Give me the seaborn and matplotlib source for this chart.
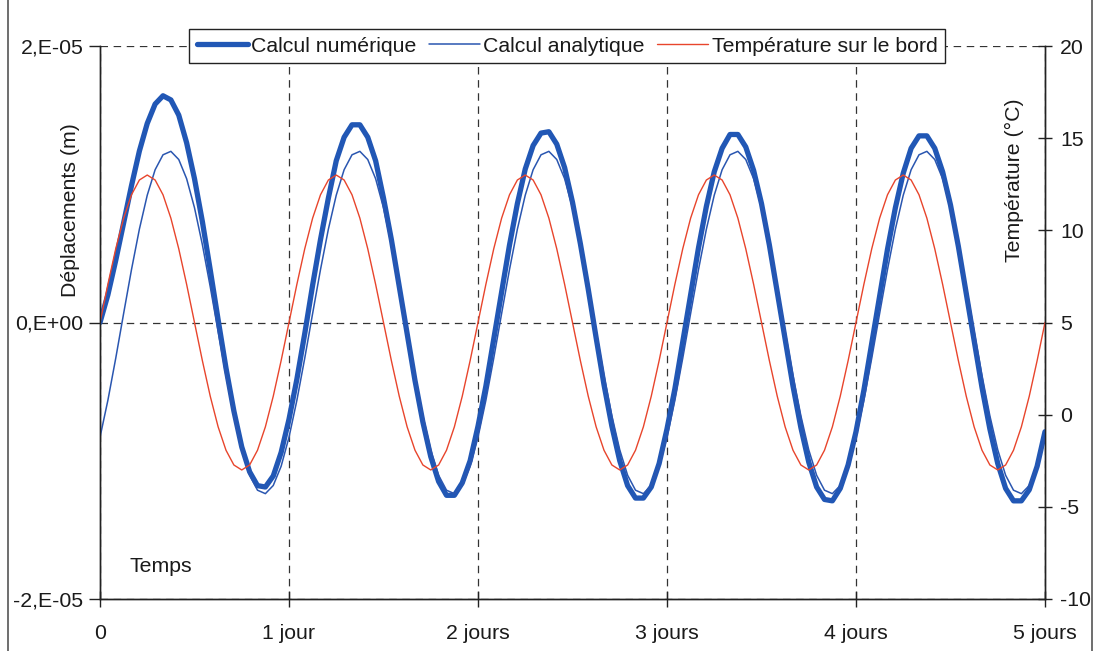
import numpy as np
import matplotlib
matplotlib.use("Agg")
import matplotlib.pyplot as plt
import seaborn as sns
from matplotlib.lines import Line2D

# ---------------- data ----------------
hours = np.arange(0, 121)          # hourly samples over 5 days
days = hours / 24.0

# Calcul numérique (displacement, micrometres)
num_um = [
    0.0, 2.0, 4.5, 7.2, 9.9, 12.4, 14.4, 15.8, 16.4, 16.1, 15.0, 13.0,
    10.4, 7.3, 3.8, 0.2, -3.3, -6.4, -9.0, -10.8, -11.8, -11.9, -11.1, -9.4,
    -7.0, -4.1, -0.8, 2.7, 6.0, 9.0, 11.7, 13.4, 14.3, 14.3, 13.4, 11.7,
    9.0, 6.0, 2.6, -0.8, -4.2, -7.2, -9.7, -11.5, -12.5, -12.5, -11.6, -10.0,
    -7.5, -4.6, -1.2, 2.2, 5.6, 8.6, 11.1, 12.8, 13.7, 13.8, 12.9, 11.2,
    8.7, 5.7, 2.4, -1.1, -4.5, -7.5, -10.0, -11.8, -12.7, -12.7, -11.9, -10.2,
    -7.7, -4.8, -1.4, 2.0, 5.4, 8.4, 10.9, 12.6, 13.6, 13.6, 12.7, 11.0,
    8.6, 5.6, 2.2, -1.2, -4.6, -7.6, -10.1, -11.9, -12.8, -12.9, -12.0, -10.3,
    -7.9, -4.9, -1.5, 1.9, 5.3, 8.3, 10.8, 12.6, 13.5, 13.5, 12.6, 10.9,
    8.5, 5.5, 2.1, -1.3, -4.7, -7.7, -10.2, -12.0, -12.9, -12.9, -12.1, -10.4,
    -7.9,
]

# Calcul analytique (displacement, micrometres)
ana_um = [
    -8.30, -5.63, -2.58, 0.65, 3.83, 6.75, 9.21, 11.05, 12.13, 12.38, 11.79, 10.40,
    8.30, 5.63, 2.58, -0.65, -3.83, -6.75, -9.21, -11.05, -12.13, -12.38, -11.79, -10.40,
    -8.30, -5.63, -2.58, 0.65, 3.83, 6.75, 9.21, 11.05, 12.13, 12.38, 11.79, 10.40,
    8.30, 5.63, 2.58, -0.65, -3.83, -6.75, -9.21, -11.05, -12.13, -12.38, -11.79, -10.40,
    -8.30, -5.63, -2.58, 0.65, 3.83, 6.75, 9.21, 11.05, 12.13, 12.38, 11.79, 10.40,
    8.30, 5.63, 2.58, -0.65, -3.83, -6.75, -9.21, -11.05, -12.13, -12.38, -11.79, -10.40,
    -8.30, -5.63, -2.58, 0.65, 3.83, 6.75, 9.21, 11.05, 12.13, 12.38, 11.79, 10.40,
    8.30, 5.63, 2.58, -0.65, -3.83, -6.75, -9.21, -11.05, -12.13, -12.38, -11.79, -10.40,
    -8.30, -5.63, -2.58, 0.65, 3.83, 6.75, 9.21, 11.05, 12.13, 12.38, 11.79, 10.40,
    8.30, 5.63, 2.58, -0.65, -3.83, -6.75, -9.21, -11.05, -12.13, -12.38, -11.79, -10.40,
    -8.30,
]

# Température sur le bord (°C)
temp_c = [
    5.00, 7.07, 9.00, 10.66, 11.93, 12.73, 13.00, 12.73, 11.93, 10.66, 9.00, 7.07,
    5.00, 2.93, 1.00, -0.66, -1.93, -2.73, -3.00, -2.73, -1.93, -0.66, 1.00, 2.93,
    5.00, 7.07, 9.00, 10.66, 11.93, 12.73, 13.00, 12.73, 11.93, 10.66, 9.00, 7.07,
    5.00, 2.93, 1.00, -0.66, -1.93, -2.73, -3.00, -2.73, -1.93, -0.66, 1.00, 2.93,
    5.00, 7.07, 9.00, 10.66, 11.93, 12.73, 13.00, 12.73, 11.93, 10.66, 9.00, 7.07,
    5.00, 2.93, 1.00, -0.66, -1.93, -2.73, -3.00, -2.73, -1.93, -0.66, 1.00, 2.93,
    5.00, 7.07, 9.00, 10.66, 11.93, 12.73, 13.00, 12.73, 11.93, 10.66, 9.00, 7.07,
    5.00, 2.93, 1.00, -0.66, -1.93, -2.73, -3.00, -2.73, -1.93, -0.66, 1.00, 2.93,
    5.00, 7.07, 9.00, 10.66, 11.93, 12.73, 13.00, 12.73, 11.93, 10.66, 9.00, 7.07,
    5.00, 2.93, 1.00, -0.66, -1.93, -2.73, -3.00, -2.73, -1.93, -0.66, 1.00, 2.93,
    5.00,
]

x_ticks = [0, 1, 2, 3, 4, 5]
x_labels = ["0", "1 jour", "2 jours", "3 jours", "4 jours", "5 jours"]
y_ticks = [-20, 0, 20]                      # micrometres
y_labels = ["-2,E-05", "0,E+00", "2,E-05"]
t_ticks = [-10, -5, 0, 5, 10, 15, 20]
t_labels = ["-10", "-5", "0", "5", "10", "15", "20"]

# ---------------- style ----------------
sns.set_style("white")
plt.rcParams["font.family"] = ["Liberation Sans", "DejaVu Sans"]
FS = 15.3
TXT = "#1a1a1a"

fig = plt.figure(figsize=(10.96, 6.51), dpi=100)
ax = fig.add_axes([100 / 1096, 1 - 599 / 651, 945 / 1096, 553 / 651])
ax2 = ax.twinx()

C_NUM = "#2157b5"
C_ANA = "#2a56b0"
C_TMP = "#e8452c"

sns.lineplot(x=days, y=num_um, ax=ax, color=C_NUM, linewidth=3.8,
             label="Calcul numérique", legend=False, zorder=3)
sns.lineplot(x=days, y=ana_um, ax=ax, color=C_ANA, linewidth=1.1,
             label="Calcul analytique", legend=False, zorder=4)
sns.lineplot(x=days, y=temp_c, ax=ax2, color=C_TMP, linewidth=1.0,
             label="Température sur le bord", legend=False, zorder=2)

ax.set_xlim(0, 5)
ax.set_ylim(-20, 20)
ax2.set_ylim(-10, 20)

ax.set_xticks(x_ticks)
ax.set_xticklabels(x_labels)
ax.set_yticks(y_ticks)
ax.set_yticklabels(y_labels)
ax2.set_yticks(t_ticks)
ax2.set_yticklabels(t_labels)

ax.set_xlabel("")
ax.set_ylabel("")
ax2.set_ylabel("")

# grid: dashed
ax.grid(True, which="major", axis="both", color="#333333", linestyle=(0, (6, 4.5)),
        linewidth=0.9)
ax.set_axisbelow(True)

for a in (ax, ax2):
    for s in ("left", "bottom", "right"):
        a.spines[s].set_color("#222222")
        a.spines[s].set_linewidth(1.0)
    a.spines["top"].set_visible(False)

ax.tick_params(axis="y", direction="out", length=8, width=1, pad=4,
               labelsize=FS, labelcolor=TXT, color="#222222", left=True)
ax.tick_params(axis="x", direction="inout", length=12, width=1, pad=12,
               labelsize=FS, labelcolor=TXT, color="#222222", bottom=True)
ax2.tick_params(axis="y", direction="inout", length=10, width=1, pad=6,
                labelsize=FS, labelcolor=TXT, color="#222222", right=True)

# axis titles placed as in the original
ax.text(70 / 1096, 1 - 210 / 651, "Déplacements (m)", transform=fig.transFigure,
        rotation=90, ha="center", va="center", fontsize=FS, color=TXT)
ax.text(1014 / 1096, 1 - 180 / 651, "Température (°C)", transform=fig.transFigure,
        rotation=90, ha="center", va="center", fontsize=FS, color=TXT)
ax.text(130 / 1096, 1 - 567 / 651, "Temps", transform=fig.transFigure,
        ha="left", va="center", fontsize=FS, color=TXT)

# legend
h1, l1 = ax.get_legend_handles_labels()
h2, l2 = ax2.get_legend_handles_labels()
leg = ax2.legend(h1 + h2, l1 + l2, loc="center", ncol=3,
                 bbox_to_anchor=(567 / 1096, 1 - 46 / 651), bbox_transform=fig.transFigure,
                 fontsize=FS, frameon=True, fancybox=False, framealpha=1,
                 edgecolor="#222222", handlelength=2.4, handletextpad=0.15,
                 columnspacing=0.6, borderpad=0.35, borderaxespad=0)
leg.get_frame().set_linewidth(1.0)
for t in leg.get_texts():
    t.set_color(TXT)

# outer frame lines of the original figure
fig.add_artist(Line2D([8 / 1096, 8 / 1096], [0, 1], transform=fig.transFigure,
                      color="#555555", linewidth=1.2))
fig.add_artist(Line2D([1092 / 1096, 1092 / 1096], [0, 1], transform=fig.transFigure,
                      color="#555555", linewidth=1.2))

fig.savefig("out.png", dpi=100)
